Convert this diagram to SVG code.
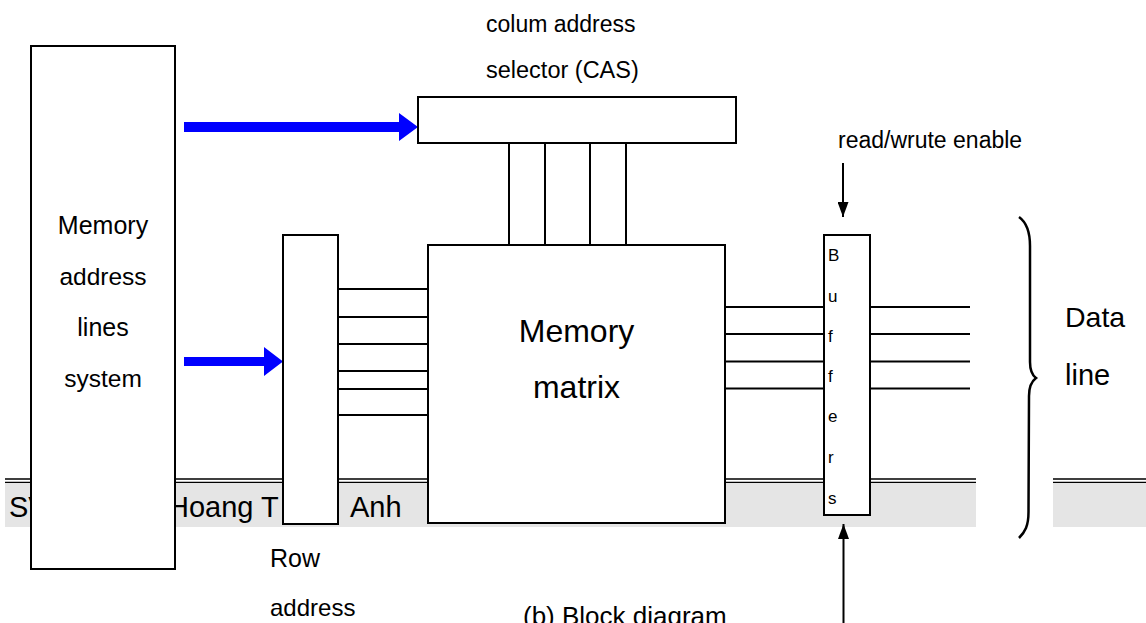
<svg xmlns="http://www.w3.org/2000/svg" width="1146" height="623" viewBox="0 0 1146 623">
<style>
text{font-family:"Liberation Sans",Arial,sans-serif;fill:#000}
.box{fill:#fff;stroke:#000;stroke-width:2}
.ln{stroke:#000;stroke-width:2;fill:none}
.blue{fill:#0000ff}
</style>
<defs>
<marker id="ah" markerWidth="16" markerHeight="11" refX="15" refY="5.5" orient="auto" markerUnits="userSpaceOnUse">
<path d="M0,0 L15,5.5 L0,11 Z" fill="#000"/>
</marker>
</defs>
<rect width="1146" height="623" fill="#fff"/>
<g id="footer">
<rect x="5" y="483" width="971" height="44" fill="#e5e5e5"/>
<rect x="1053" y="483" width="93" height="44" fill="#e5e5e5"/>
<path d="M5,479 H976 M5,482.3 H976 M1053,479 H1146 M1053,482.3 H1146" stroke="#000" stroke-width="1.3"/>
<text x="9" y="517" font-size="29">SV</text>
<text x="168" y="517" font-size="29">Hoang T</text>
<text x="350" y="517" font-size="29">Anh</text>
</g>
<g id="connectors">
<path d="M184,122 H399 V113 L418,127 L399,141 V132 H184 Z" class="blue"/>
<path d="M184,357 H264 V347 L283,361.5 L264,376 V366 H184 Z" class="blue"/>
<path class="ln" d="M509,143 V245 M545,143 V245 M590,143 V245 M626,143 V245"/>
<path class="ln" d="M338,289 H428 M338,317 H428 M338,344 H428 M338,371 H428 M338,389 H428 M338,415 H428"/>
<path class="ln" d="M725,307 H824 M725,334 H824 M725,361.5 H824 M725,388.5 H824"/>
<path class="ln" d="M870,307 H970 M870,334 H970 M870,361.5 H970 M870,388.5 H970"/>
<line x1="843" y1="163" x2="843" y2="217" stroke="#000" stroke-width="2" marker-end="url(#ah)"/>
<line x1="843.5" y1="623" x2="843.5" y2="524" stroke="#000" stroke-width="2" marker-end="url(#ah)"/>
<path d="M1019,217 C1026,222 1030,230 1030,246 L1030,362 C1030,371 1032,375 1036,378 C1032,381 1029,386 1029,396 L1028.5,512 C1028.5,526 1025,532 1019,538" fill="none" stroke="#000" stroke-width="2.5"/>
</g>
<g id="mal">
<rect class="box" x="31" y="46" width="144" height="523"/>
<text x="103" y="234" font-size="25" text-anchor="middle">Memory</text>
<text x="103" y="285" font-size="24.5" text-anchor="middle">address</text>
<text x="103" y="336" font-size="25" text-anchor="middle">lines</text>
<text x="103" y="387" font-size="24.5" text-anchor="middle">system</text>
</g>
<g id="cas">
<rect class="box" x="418" y="97" width="318" height="46"/>
<text x="486" y="32" font-size="23">colum address</text>
<text x="486" y="78" font-size="23.5">selector (CAS)</text>
</g>
<g id="row">
<rect class="box" x="283" y="235" width="55" height="289"/>
<text x="270" y="567" font-size="25">Row</text>
<text x="270" y="616" font-size="24">address</text>
</g>
<g id="matrix">
<rect class="box" x="428" y="245" width="297" height="278"/>
<text x="576.5" y="342" font-size="32" text-anchor="middle">Memory</text>
<text x="576.5" y="398" font-size="32" text-anchor="middle">matrix</text>
</g>
<g id="buffers">
<rect class="box" x="824" y="235" width="46" height="280"/>
<g font-size="17">
<text x="828" y="261">B</text>
<text x="828" y="302">u</text>
<text x="828" y="342">f</text>
<text x="828" y="382">f</text>
<text x="828" y="422">e</text>
<text x="828" y="463">r</text>
<text x="828" y="504">s</text>
</g>
</g>
<g id="rw">
<text x="838" y="148" font-size="23">read/wrute enable</text>
</g>
<g id="data">
<text x="1065" y="327" font-size="28.5">Data</text>
<text x="1065" y="385" font-size="29">line</text>
</g>
<g id="caption">
<text x="523" y="625" font-size="26">(b) Block diagram</text>
</g>
</svg>
